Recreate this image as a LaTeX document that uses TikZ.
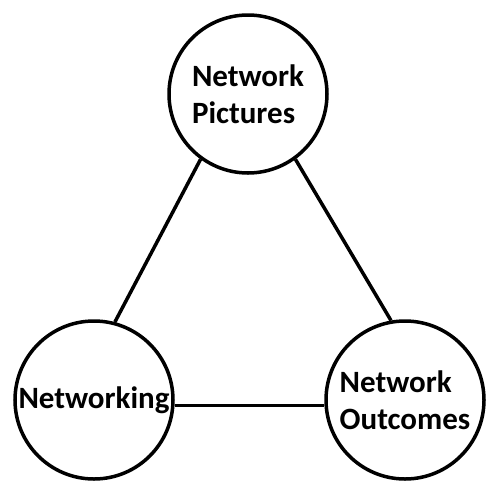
\documentclass[tikz,border=0pt]{standalone}
\usepackage{fontspec}
\newfontfamily\labelfont{Carlito}
\begin{document}
\begin{tikzpicture}[x=1pt,y=-1pt,
	topic/.style={circle,draw,line width=3.5pt,minimum size=158pt,inner sep=0pt,
		align=left,font=\labelfont\bfseries\fontsize{31}{37}\selectfont},
	link/.style={line width=3.5pt}]
	\useasboundingbox (0,0) rectangle (487,483);

	\node[topic] (pictures) at (248,94) {Network\\Pictures};
	\node[topic] (networking) at (94,400) {Networking};
	\node[topic] (outcomes) at (405,400) {Network\\Outcomes};

	\path [link] (pictures.234) edge (networking.75);
	\path [link] (pictures.306) edge (outcomes.100);
	\path [link] (networking.356) edge (outcomes.184);
\end{tikzpicture}
\end{document}
